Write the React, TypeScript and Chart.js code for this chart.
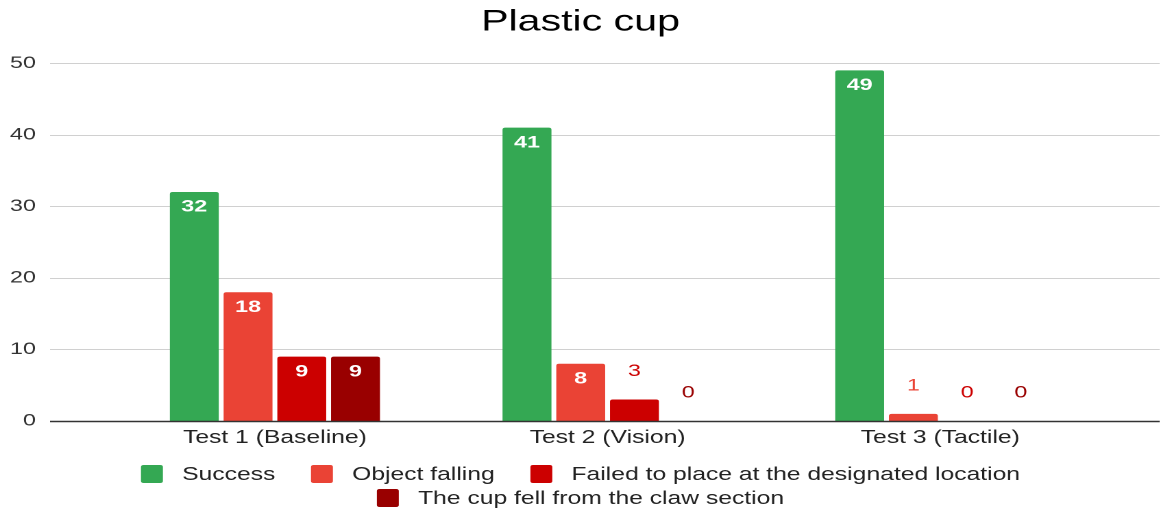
import React, { useEffect, useRef } from "react";
import { Chart, registerables } from "chart.js";

Chart.register(...registerables);

const categories = ["Test 1 (Baseline)", "Test 2 (Vision)", "Test 3 (Tactile)"];
const seriesNames = [
  "Success",
  "Object falling",
  "Failed to place at the designated location",
  "The cup fell from the claw section",
];
const success = [32, 41, 49];
const objectFalling = [18, 8, 1];
const failedToPlace = [9, 3, 0];
const cupFell = [9, 0, 0];
const seriesColors = ["#34a853", "#ea4335", "#cc0000", "#990000"];
const yMin = 0;
const yMax = 50;
const yStep = 10;
const chartTitle = "Plastic cup";

const W = 847;
const H = 512;
const SX = 1161 / W;
const FONT = "'Liberation Sans', Arial, Helvetica, sans-serif";

const extGridPlugin = {
  id: "extGrid",
  beforeDatasetsDraw(chart: any) {
    const ys = chart.scales.y;
    const ctx = chart.ctx;
    ctx.save();
    ctx.strokeStyle = "#d0d0d0";
    ctx.lineWidth = 1;
    ys.ticks.forEach((t: any) => {
      if (t.value === yMin) return;
      const py = Math.round(ys.getPixelForValue(t.value)) + 0.5;
      ctx.beginPath();
      ctx.moveTo(36.5, py);
      ctx.lineTo(W - 1, py);
      ctx.stroke();
    });
    ctx.restore();
  },
  afterDatasetsDraw(chart: any) {
    const ys = chart.scales.y;
    const ctx = chart.ctx;
    ctx.save();
    const by = Math.round(ys.getPixelForValue(yMin)) + 0.5;
    ctx.strokeStyle = "#333333";
    ctx.lineWidth = 1.6;
    ctx.beginPath();
    ctx.moveTo(36.5, by);
    ctx.lineTo(W - 1, by);
    ctx.stroke();
    ctx.textAlign = "center";
    ctx.textBaseline = "middle";
    chart.data.datasets.forEach((ds: any, di: number) => {
      const meta = chart.getDatasetMeta(di);
      meta.data.forEach((bar: any, i: number) => {
        const v = ds.data[i];
        if (v >= 5) {
          ctx.font = `bold 17px ${FONT}`;
          ctx.fillStyle = "#ffffff";
          ctx.fillText(String(v), bar.x, bar.y + 15);
        } else {
          ctx.font = `17px ${FONT}`;
          ctx.fillStyle = ds.backgroundColor;
          ctx.fillText(String(v), bar.x, bar.y - 28);
        }
      });
    });
    ctx.restore();
  },
};

const legendPlugin = {
  id: "customLegend",
  afterDraw(chart: any) {
    const ctx = chart.ctx;
    ctx.save();
    ctx.font = `18px ${FONT}`;
    const boxW = 16;
    const boxH = 18;
    const gap = 14;
    const itemGap = 26;
    const items = chart.data.datasets.map((ds: any) => ({
      text: ds.label,
      color: ds.backgroundColor,
      w: boxW + gap + ctx.measureText(ds.label).width,
    }));
    const maxW = W - 20;
    const rows: any[][] = [];
    let cur: any[] = [];
    let curW = 0;
    items.forEach((it: any) => {
      const add = cur.length ? itemGap + it.w : it.w;
      if (cur.length && curW + add > maxW) {
        rows.push(cur);
        cur = [it];
        curW = it.w;
      } else {
        cur.push(it);
        curW += add;
      }
    });
    if (cur.length) rows.push(cur);
    const rowY0 = 474;
    const rowStep = 24;
    rows.forEach((row, ri) => {
      const total = row.reduce((s, it, k) => s + it.w + (k ? itemGap : 0), 0);
      let x = (W - total) / 2;
      const cy = rowY0 + ri * rowStep;
      row.forEach((it: any) => {
        ctx.fillStyle = it.color;
        ctx.beginPath();
        (ctx as any).roundRect(x, cy - boxH / 2, boxW, boxH, 2);
        ctx.fill();
        ctx.fillStyle = "#222222";
        ctx.textAlign = "left";
        ctx.textBaseline = "middle";
        ctx.fillText(it.text, x + boxW + gap, cy + 1);
        x += it.w + itemGap;
      });
    });
    ctx.restore();
  },
};

export default function App() {
  const ref = useRef<HTMLCanvasElement | null>(null);

  useEffect(() => {
    document.body.style.margin = "0";
    document.body.style.overflow = "hidden";
    const canvas = ref.current;
    if (!canvas) return;
    const values = [success, objectFalling, failedToPlace, cupFell];
    const chart = new Chart(canvas, {
      type: "bar",
      data: {
        labels: categories,
        datasets: seriesNames.map((name, i) => ({
          label: name,
          data: values[i],
          backgroundColor: seriesColors[i],
          borderRadius: 2,
          categoryPercentage: 0.646,
          barPercentage: 0.91,
        })),
      },
      options: {
        animation: false,
        responsive: false,
        devicePixelRatio: 2,
        layout: { padding: { left: 0, right: 0, top: 0, bottom: 57.4 } },
        plugins: {
          legend: { display: false },
          tooltip: { enabled: false },
          title: {
            display: true,
            text: chartTitle,
            color: "#000000",
            font: { family: FONT, size: 30, weight: "normal" },
            padding: { top: 4, bottom: 23 },
          },
        },
        scales: {
          x: {
            grid: { display: false, drawTicks: false },
            border: { display: false },
            ticks: {
              color: "#222222",
              font: { family: FONT, size: 18 },
              padding: 6,
              maxRotation: 0,
              autoSkip: false,
            },
          },
          y: {
            min: yMin,
            max: yMax,
            grid: { display: false, drawTicks: false },
            border: { display: false },
            ticks: {
              stepSize: yStep,
              color: "#333333",
              font: { family: FONT, size: 17 },
              padding: 53,
            },
            afterFit(scale: any) {
              scale.width = 79.2;
            },
          },
          yRight: {
            position: "right",
            min: yMin,
            max: yMax,
            grid: { display: false, drawTicks: false },
            border: { display: false },
            ticks: { display: false },
            afterFit(scale: any) {
              scale.width = 39.7;
            },
          },
        },
      },
      plugins: [extGridPlugin, legendPlugin],
    });
    return () => chart.destroy();
  }, []);

  return (
    <div
      style={{
        width: W,
        height: H,
        transform: `scaleX(${SX})`,
        transformOrigin: "0 0",
      }}
    >
      <canvas ref={ref} width={W} height={H} style={{ display: "block" }} />
    </div>
  );
}
